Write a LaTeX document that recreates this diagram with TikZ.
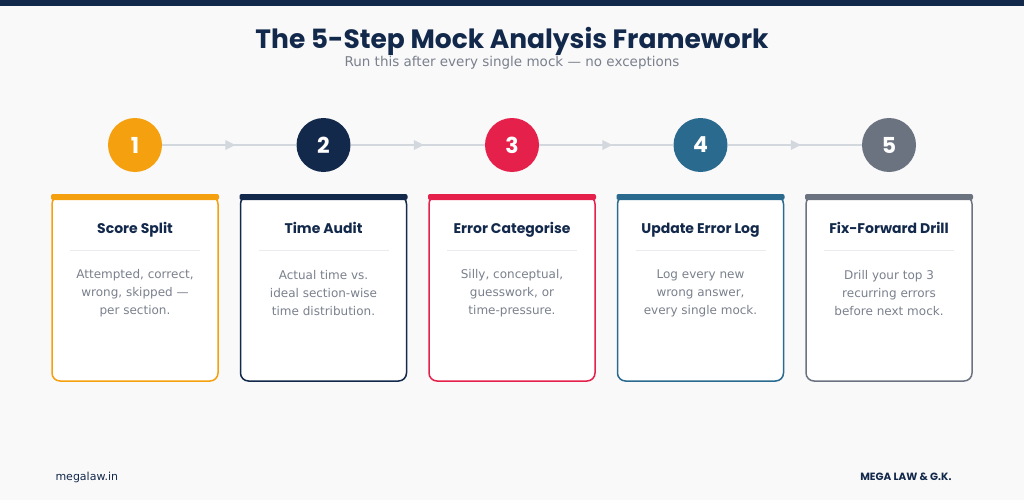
\documentclass[tikz,border=0pt]{standalone}
\usepackage{fontspec}
\setmainfont{DejaVu Sans}
\newfontfamily\hfont{Poppins}
\definecolor{navy}{HTML}{13294B}
\definecolor{c1}{HTML}{F5A00F}
\definecolor{c2}{HTML}{13294B}
\definecolor{c3}{HTML}{E5204A}
\definecolor{c4}{HTML}{2A6A8E}
\definecolor{c5}{HTML}{6B7280}
\definecolor{bg}{HTML}{F9F9FA}
\definecolor{txt}{HTML}{7A808C}
\definecolor{arr}{HTML}{D3D7DE}
\begin{document}
\begin{tikzpicture}[x=1pt,y=-1pt,
  num/.style={circle,minimum size=54pt,inner sep=0pt,text=white,font=\hfont\bfseries\fontsize{22}{22}\selectfont},
  ttl/.style={anchor=base,font=\hfont\bfseries\fontsize{14}{15}\selectfont,text=navy},
  body/.style={font=\fontsize{12}{18}\selectfont,text=txt,align=center},
  conn/.style={draw=arr,line width=1.5pt}]
\fill[bg] (0,0) rectangle (1024,500);
\useasboundingbox (0,0) rectangle (1024,500);
\fill[navy] (0,0) rectangle (1024,6);
\node[anchor=base,font=\hfont\bfseries\fontsize{26.5}{28}\selectfont,text=navy] (title) at (512,49) {The 5-Step Mock Analysis Framework};
\node[anchor=base,font=\fontsize{13.5}{14}\selectfont,text=txt] (sub) at (512,67) {Run this after every single mock — no exceptions};
\foreach \i/\t/\a/\b/\c in {1/Score Split/{Attempted, correct,}/{wrong, skipped —}/{per section.},
  2/Time Audit/{Actual time vs.}/{ideal section-wise}/{time distribution.},
  3/Error Categorise/{Silly, conceptual,}/{guesswork, or}/{time-pressure.},
  4/Update Error Log/{Log every new}/{wrong answer,}/{every single mock.},
  5/Fix-Forward Drill/{Drill your top 3}/{recurring errors}/{before next mock.}}{
  \pgfmathsetmacro\cx{135+188.5*(\i-1)}
  \node[num,fill=c\i] (n\i) at (\cx,145) {\i};
  \draw[c\i,line width=1.5pt,fill=white,rounded corners=8pt] (\cx-83,196) rectangle (\cx+83,381);
  \fill[c\i,rounded corners=2pt] (\cx-84,194) rectangle (\cx+84,200);
  \node[ttl] (t\i) at (\cx,233) {\t};
  \draw[arr!50,line width=0.8pt] (\cx-65,250) -- (\cx+65,250);
  \node[body] (b\i) at (\cx,293) {\a\\\b\\\c};
}
\foreach \i/\j in {1/2,2/3,3/4,4/5}{
  \draw[conn] (n\i) -- (n\j);
  \path (n\i) -- (n\j) coordinate[pos=0.5] (m\i);
  \fill[arr] ([xshift=6pt]m\i) -- ([xshift=-4pt,yshift=-5pt]m\i) -- ([xshift=-4pt,yshift=5pt]m\i) -- cycle;
}
\node[anchor=base west,font=\fontsize{11}{12}\selectfont,text=navy] (l) at (52,480) {megalaw.in};
\node[anchor=base east,font=\hfont\bfseries\fontsize{10.5}{12}\selectfont,text=navy] (r) at (955,480) {MEGA LAW \& G.K.};
\end{tikzpicture}
\end{document}
